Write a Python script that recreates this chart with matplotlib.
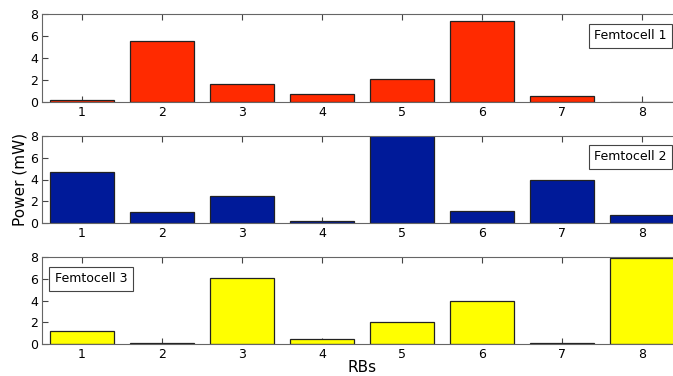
import matplotlib
matplotlib.use("Agg")
import matplotlib.pyplot as plt

rbs = [1, 2, 3, 4, 5, 6, 7, 8]
tick_labels = ["1", "2", "3", "4", "5", "6", "7", "8"]
femto1 = [0.15, 5.5, 1.6, 0.75, 2.1, 7.4, 0.5, 0.0]
femto2 = [4.73, 1.0, 2.44, 0.18, 8.5, 1.13, 4.0, 0.76]
femto3 = [1.17, 0.1, 6.06, 0.46, 2.0, 3.94, 0.05, 7.9]
names = ["Femtocell 1", "Femtocell 2", "Femtocell 3"]
colors = ["#ff2a00", "#001a99", "#ffff00"]
series = [femto1, femto2, femto3]

W, H = 673, 376
plt.rcParams['font.family'] = ['DejaVu Sans']
fig = plt.figure(figsize=(W / 100, H / 100), dpi=100)

# axes pixel boxes (left, top, right, bottom)
boxes = [(42, 14, 682, 102), (42, 136, 682, 223), (42, 257, 682, 344)]
legend_pos = [(0.976, 0.75, 'right'), (0.976, 0.76, 'right'), (0.02, 0.75, 'left')]

for i, (l, t, r, b) in enumerate(boxes):
    ax = fig.add_axes([l / W, 1 - b / H, (r - l) / W, (b - t) / H])
    ax.bar(rbs, series[i], width=0.8, color=colors[i], edgecolor='#222222',
           linewidth=0.9, zorder=2)
    ax.set_xlim(0.5, 8.5)
    ax.set_ylim(0, 8)
    ax.set_yticks([0, 2, 4, 6, 8])
    ax.set_xticks(rbs)
    ax.set_xticklabels(tick_labels)
    ax.tick_params(direction='in', top=True, right=False, length=4,
                   width=0.8, color='#444444', labelsize=9, pad=3)
    for s in ax.spines.values():
        s.set_color('#666666')
        s.set_linewidth(0.8)
    ax.spines['right'].set_visible(False)
    x, y, ha = legend_pos[i]
    ax.text(x, y, names[i], transform=ax.transAxes, ha=ha, va='center',
            fontsize=9,
            bbox=dict(boxstyle='square,pad=0.45', facecolor='white',
                      edgecolor='#444444', linewidth=0.8),
            zorder=5)

fig.text(20 / W, 1 - 179 / H, "Power (mW)", rotation=90, ha='center', va='center', fontsize=11)
fig.text(362 / W, 1 - 368 / H, "RBs", ha='center', va='center', fontsize=11)

fig.savefig("out.png", dpi=100)
